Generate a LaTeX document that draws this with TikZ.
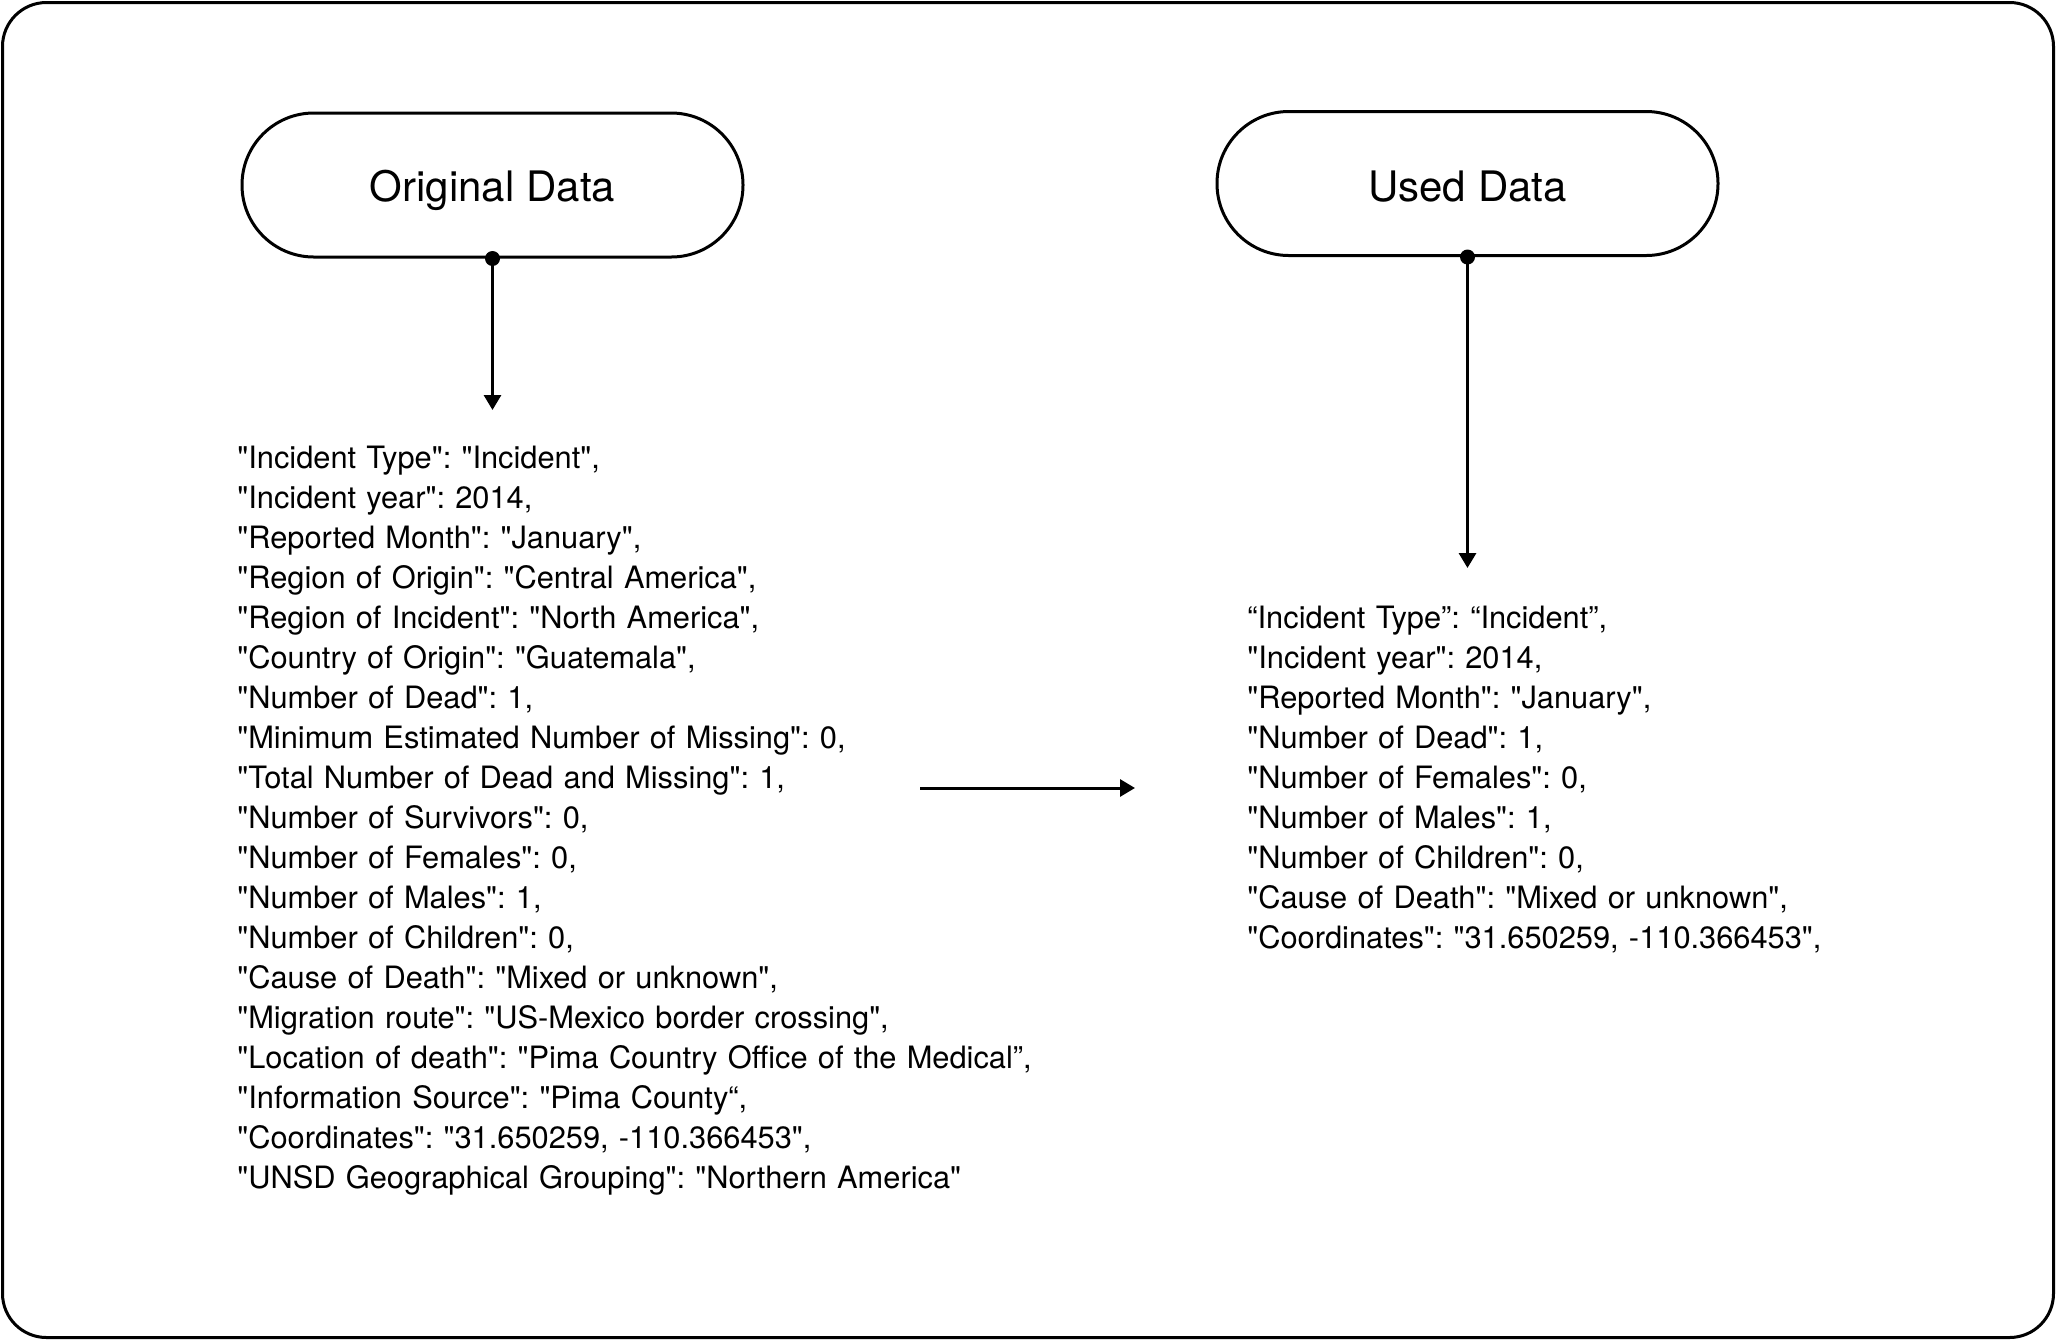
\documentclass[tikz,border=0pt]{standalone}
\usepackage{fontspec}
\setmainfont{TeX Gyre Heros}[Ligatures=TeXOff]
\usetikzlibrary{arrows.meta}
\begin{document}
\frenchspacing
\begin{tikzpicture}[x=0.5pt,y=-0.5pt,
  pill/.style={draw, line width=1.5pt, rounded corners=35.9pt, minimum width=250.5pt, minimum height=72pt, inner sep=0pt},
  pilltext/.style={anchor=base, inner sep=0pt, font=\fontsize{21}{24}\selectfont},
  datatext/.style={anchor=base west, inner sep=0pt, text width=480pt, align=left, font=\fontsize{15.4}{20}\selectfont\frenchspacing},
  conn/.style={line width=1.5pt, -{Triangle[length=7.5pt,width=8.5pt]}},
  dot/.style={circle, fill, inner sep=0pt, minimum size=7.5pt}]
\useasboundingbox (0,0) rectangle (2056,1340);
\draw[line width=1.5pt, rounded corners=22pt] (2.5,2.5) rectangle (2053.5,1337.5);

\node[pill] (orig) at (492.5,185) {};
\node[pilltext] (origlbl) at (492.5,201.5) {Original Data};
\node[pill] (used) at (1467.5,183.5) {};
\node[pilltext] (usedlbl) at (1467.5,201) {Used Data};

\coordinate (origtip) at (492.5,410);
\coordinate (usedtip) at (1467.5,568);
\draw[conn] (orig.south) -- (origtip);
\draw[conn] (used.south) -- (usedtip);
\node[dot] (origdot) at (orig.south) {};
\node[dot] (useddot) at (used.south) {};

\node[datatext] (origdata) at (237,468) {%
"Incident Type": "Incident",\\
"Incident year": 2014,\\
"Reported Month": "January",\\
"Region of Origin": "Central America",\\
"Region of Incident": "North America",\\
"Country of Origin": "Guatemala",\\
"Number of Dead": 1,\\
"Minimum Estimated Number of Missing": 0,\\
"Total Number of Dead and Missing": 1,\\
"Number of Survivors": 0,\\
"Number of Females": 0,\\
"Number of Males": 1,\\
"Number of Children": 0,\\
"Cause of Death": "Mixed or unknown",\\
"Migration route": "US-Mexico border crossing",\\
"Location of death": "Pima Country Office of the Medical”,\\
"Information Source": "Pima County“,\\
"Coordinates": "31.650259, -110.366453",\\
"UNSD Geographical Grouping": "Northern America"};

\node[datatext] (useddata) at (1247,628) {%
“Incident Type”: “Incident”,\\
"Incident year": 2014,\\
"Reported Month": "January",\\
"Number of Dead": 1,\\
"Number of Females": 0,\\
"Number of Males": 1,\\
"Number of Children": 0,\\
"Cause of Death": "Mixed or unknown",\\
"Coordinates": "31.650259, -110.366453",};

\coordinate (hstart) at (920,788);
\coordinate (hend) at (1135,788);
\draw[conn] (hstart) -- (hend);
\end{tikzpicture}
\end{document}
